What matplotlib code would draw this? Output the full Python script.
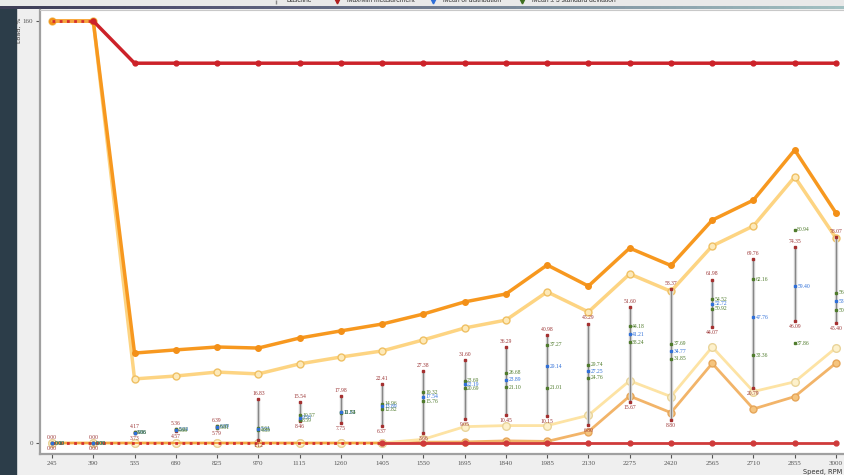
import numpy as np
import matplotlib.pyplot as plt
from matplotlib.patches import Rectangle
from matplotlib.lines import Line2D

# Speed points, RPM
rpm = [245, 390, 535, 680, 825, 970, 1115, 1260, 1405, 1550,
       1695, 1840, 1985, 2130, 2275, 2420, 2565, 2710, 2855, 3000]

# Envelope / load curves, %
upper_limit = [160, 160, 144, 144, 144, 144, 144, 144, 144, 144,
               144, 144, 144, 144, 144, 144, 144, 144, 144, 144]
load_high = [160, 160, 34.1, 35.3, 36.4, 36.0, 39.8, 42.5, 45.1, 48.9,
             53.5, 56.5, 67.5, 59.5, 73.9, 67.3, 84.5, 92.1, 111.1, 87.2]
load_mid = [160, 160, 24.3, 25.4, 26.9, 26.2, 30.0, 32.6, 34.9, 39.1,
            43.6, 46.6, 57.3, 49.7, 64.1, 57.5, 74.7, 82.3, 100.9, 77.7]
load_low = [0, 0, 0, 0, 0, 0, 0, 0, 0, 1.4,
            6.2, 6.6, 6.6, 10.5, 23.6, 17.6, 36.4, 19.5, 23.2, 36.1]
load_min = [0, 0, 0, 0, 0, 0, 0, 0, 0, 0.3,
            0.4, 0.8, 0.6, 4.3, 17.8, 11.5, 30.2, 12.9, 17.6, 30.3]
lower_limit = [0] * 20

# Measured distribution per speed point
meas_max = [0.00, 0.00, 4.17, 5.36, 6.39, 16.83, 15.54, 17.98, 22.41, 27.38,
            31.60, 36.29, 40.98, 45.29, 51.60, 58.37, 61.98, 69.76, 74.35, 78.07]
meas_min = [0.00, 0.00, 3.73, 4.57, 5.79, 1.12, 8.46, 7.75, 6.37, 3.66,
            9.05, 10.45, 10.15, 6.80, 15.67, 8.80, 44.07, 20.79, 46.09, 45.40]
sd_upper = [0.00, 0.00, 4.06, 5.22, 6.37, 5.61, 10.57, 11.72, 14.96, 19.32,
            23.69, 26.68, 37.27, 29.74, 44.18, 37.69, 54.52, 62.16, 80.94, 56.96]
dist_mean = [0.00, 0.00, 3.96, 5.04, 6.09, 5.25, 9.58, 11.63, 13.89, 17.54,
             22.19, 23.89, 29.14, 27.25, 41.21, 34.77, 52.72, 47.76, 59.40, 53.68]
sd_lower = [0.00, 0.00, 3.86, 4.86, 5.81, 4.89, 8.59, 11.54, 12.82, 15.76,
            20.69, 21.10, 21.01, 24.76, 38.24, 31.85, 50.92, 33.36, 37.86, 50.40]

W, H = 845, 475
fig = plt.figure(figsize=(W / 100, H / 100), dpi=100)
fig.patch.set_facecolor('#efefef')

# window frame bits
fig.add_artist(Rectangle((0, 0), 16 / W, 1 - 7 / H, transform=fig.transFigure,
                         color='#2c3d49', zorder=0))
fig.add_artist(Rectangle((0, 1 - 6 / H), 1, 6 / H, transform=fig.transFigure,
                         color='#e9e9e9', zorder=0))
bar_ax = fig.add_axes([0, 1 - 9 / H, 1, 3 / H])
grad = np.linspace(0, 1, 256)[None, :]
bar_ax.imshow(grad, aspect='auto', cmap='bone', vmin=-0.6, vmax=1.6)
bar_ax.axis('off')

ax = fig.add_axes([40 / W, 21 / H, 805 / W, 444 / H])
ax.set_facecolor('white')
ax.set_xlim(202.8, 3031.7)
ax.set_ylim(-4.17, 164.17)

# lower load curves
ax.plot(rpm, load_min, color='#f2b469', lw=2, marker='o', ms=5,
        mfc='#f5c47e', mec='#e6a65a', zorder=2)
ax.plot(rpm, load_low, color='#fde3a4', lw=2, marker='o', ms=5.5,
        mfc='#fdf1cc', mec='#e9d49a', zorder=2)

# lower limit: dotted where it runs under the other curves
ax.plot(rpm[:9], lower_limit[:9], color='#f4a640', lw=1.4, zorder=3)
ax.plot(rpm[:9], lower_limit[:9], color='#d32f2f', lw=2, ls=(0, (1, 1.6)), zorder=3)
ax.plot(rpm[8:], lower_limit[8:], color='#cf3a3a', lw=2, marker='o', ms=3.5, zorder=3)

# upper load curves
ax.plot(rpm, load_mid, color='#fdd482', lw=2.5, marker='o', ms=5,
        mfc='#fde9b8', mec='#efc063', zorder=4)
ax.plot(rpm, load_high, color='#f7981f', lw=2.5, marker='o', ms=4,
        mfc='#f39018', mec='#f39018', zorder=4)
ax.plot(rpm[:2], upper_limit[:2], color='#f4a640', lw=1.4, zorder=5)
ax.plot(rpm[:2], upper_limit[:2], color='#d32f2f', lw=2, ls=(0, (1, 1.6)), zorder=5)
ax.plot(rpm[1:], upper_limit[1:], color='#cc2229', lw=2.5, marker='o', ms=3.5, zorder=5)

# distribution bars
lab = dict(fontsize=4.1, family='Liberation Serif', textcoords='offset points',
           annotation_clip=False, zorder=7)
for i, x in enumerate(rpm):
    if meas_max[i] > meas_min[i]:
        ax.plot([x, x], [meas_min[i], meas_max[i]], color='#cdcdcd', lw=2.4,
                solid_capstyle='butt', zorder=6)
        ax.plot([x, x], [meas_min[i], meas_max[i]], color='#7a7a7a', lw=0.6, zorder=6)
    ax.plot([x, x], [meas_min[i], meas_max[i]], ls='none', marker='s', ms=1.7,
            color='#a53030', zorder=7)
    ax.plot([x, x], [sd_lower[i], sd_upper[i]], ls='none', marker='s', ms=1.7,
            color='#4f7b2c', zorder=7)
    ax.plot([x], [dist_mean[i]], ls='none', marker='s', ms=1.7,
            color='#2f6fd8', zorder=7)
    ax.annotate('%.2f' % meas_max[i], (x, meas_max[i]), xytext=(0, 2.2),
                ha='center', va='bottom', color='#9c3636', **lab)
    ax.annotate('%.2f' % meas_min[i], (x, meas_min[i]), xytext=(0, -2.2),
                ha='center', va='top', color='#9c3636', **lab)
    ax.annotate('%.2f' % sd_upper[i], (x, sd_upper[i]), xytext=(1.8, 0),
                ha='left', va='center', color='#4f7b2c', **lab)
    ax.annotate('%.2f' % dist_mean[i], (x, dist_mean[i]), xytext=(1.8, 0),
                ha='left', va='center', color='#2f6fd8', **lab)
    ax.annotate('%.2f' % sd_lower[i], (x, sd_lower[i]), xytext=(1.8, 0),
                ha='left', va='center', color='#4f7b2c', **lab)

# axes
ax.set_xticks(rpm)
ax.set_xticklabels([str(v) for v in rpm], family='Liberation Serif')
ax.set_yticks([0, 160])
ax.set_yticklabels(['0', '160'], family='Liberation Serif')
ax.tick_params(labelsize=5, colors='#555555', length=3, width=0.8, pad=2)
for side in ['left', 'bottom']:
    ax.spines[side].set_color('#a0a0a0')
    ax.spines[side].set_linewidth(1.6)
ax.spines['top'].set_color('#c8c8c8')
ax.spines['right'].set_visible(False)

fig.text(823 / W, 1 - 472 / H, 'Speed, RPM', fontsize=4.8, color='#333333',
         ha='center', va='center')
fig.text(19 / W, 1 - 30 / H, 'Load, %', fontsize=4.6, color='#333333',
         rotation=90, ha='center', va='center')

# legend strip along the top edge
leg_y = 1.0
fig.add_artist(Line2D([276 / W], [1 - 2 / H], marker='|', ms=3, color='#888888',
                      transform=fig.transFigure))
fig.text(287 / W, leg_y, 'Baseline', fontsize=4.8, family='Liberation Sans',
         color='#333333', va='center')
items = [(337, '#b02020', 'Max/Min measurement'),
         (433, '#2f6fd8', 'Mean of distribution'),
         (522, '#3f6f20', 'Mean \u00b1 3 standard deviation')]
for px, c, txt in items:
    fig.add_artist(Line2D([px / W], [1 - 1 / H], marker='v', ms=3.5, color=c,
                          transform=fig.transFigure))
    fig.text((px + 10) / W, leg_y, txt, fontsize=4.8, family='Liberation Sans',
             color='#333333', va='center')

plt.savefig('out.png', dpi=100, facecolor=fig.get_facecolor())
